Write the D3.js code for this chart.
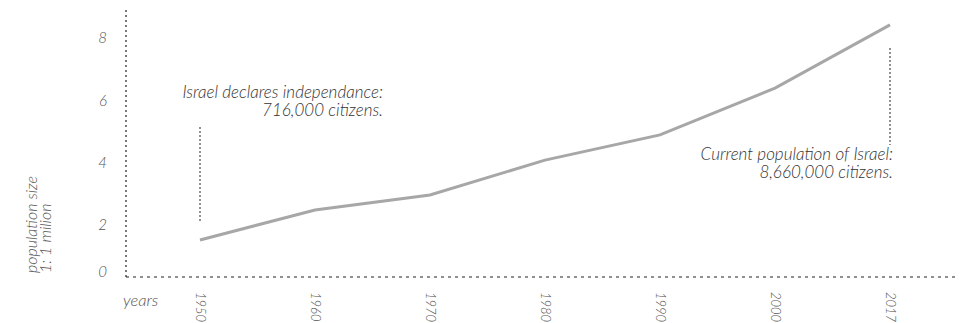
<!DOCTYPE html>
<html>
<head>
<meta charset="utf-8">
<script src="https://cdn.jsdelivr.net/npm/d3@7"></script>
<style>
  html, body { margin: 0; padding: 0; background: #fff; }
  svg { display: block; }
  text { font-family: Lato, "Open Sans", sans-serif; font-style: italic; font-weight: 300; fill: #333; }
</style>
</head>
<body>
<svg id="chart" width="963" height="323"></svg>
<script>
// ---- data ----
const years = ["1950", "1960", "1970", "1980", "1990", "2000", "2017"];
const population = [1.52, 2.48, 2.96, 4.08, 4.89, 6.39, 8.42]; // millions
const yTicks = [0, 2, 4, 6, 8];
const yTitle = ["population size", "1: 1 milion"];
const xTitle = "years";
const noteStart = ["Israel declares independance:", "716,000 citizens."];
const noteEnd = ["Current population of Israel:", "8,660,000 citizens."];

// ---- layout ----
const svg = d3.select("#chart");
const axisX = 126, axisY = 277, axisTop = 10, axisRight = 955;

const x = d3.scalePoint().domain(years).range([200, 890]);
const y = d3.scaleLinear().domain([0, 9]).range([287.3, 6.8]);

// axes (dotted)
svg.append("line")
  .attr("x1", axisX).attr("x2", axisX).attr("y1", axisTop).attr("y2", axisY)
  .attr("stroke", "#222").attr("stroke-width", 1.2).attr("stroke-dasharray", "2,3");
svg.append("line")
  .attr("x1", axisX).attr("x2", axisRight).attr("y1", axisY).attr("y2", axisY)
  .attr("stroke", "#222").attr("stroke-width", 1.2).attr("stroke-dasharray", "3,4");

// y tick labels
svg.selectAll(".ytick").data(yTicks).enter().append("text")
  .attr("class", "ytick")
  .attr("x", 107)
  .attr("y", d => Math.min(y(d), axisY - 5))
  .attr("dy", "0.35em")
  .attr("text-anchor", "end")
  .attr("font-size", 15)
  .style("fill", "#555")
  .text(d => d);

// x tick labels (rotated)
svg.selectAll(".xtick").data(years).enter().append("text")
  .attr("class", "xtick")
  .attr("transform", d => `translate(${x(d) - 4},292) rotate(90)`)
  .attr("text-anchor", "start")
  .attr("font-size", 13)
  .style("fill", "#555")
  .text(d => d);

// axis titles
svg.append("text").attr("x", 123).attr("y", 306).attr("font-size", 16.5)
  .style("fill", "#555").text(xTitle);
const yt = svg.append("text").attr("transform", "translate(37,273) rotate(-90)")
  .attr("font-size", 16).style("fill", "#555");
yt.selectAll("tspan").data(yTitle).enter().append("tspan")
  .attr("x", 0).attr("dy", (d, i) => i === 0 ? 0 : 13.5).text(d => d);

// line
const line = d3.line().x((d, i) => x(years[i])).y(d => y(d));
svg.append("path").datum(population)
  .attr("d", line).attr("fill", "none")
  .attr("stroke", "#a7a7a7").attr("stroke-width", 3);

// annotations
svg.append("line")
  .attr("x1", x(years[0])).attr("x2", x(years[0]))
  .attr("y1", 127).attr("y2", 223)
  .attr("stroke", "#222").attr("stroke-width", 1).attr("stroke-dasharray", "2,2");
const n1 = svg.append("text").attr("font-size", 17).attr("text-anchor", "end");
n1.selectAll("tspan").data(noteStart).enter().append("tspan")
  .attr("x", 383).attr("y", (d, i) => 98 + i * 18).text(d => d);

const xe = x(years[years.length - 1]);
svg.append("line")
  .attr("x1", xe).attr("x2", xe).attr("y1", 48).attr("y2", 145)
  .attr("stroke", "#222").attr("stroke-width", 1).attr("stroke-dasharray", "2,2");
const n2 = svg.append("text").attr("font-size", 17).attr("text-anchor", "end");
n2.selectAll("tspan").data(noteEnd).enter().append("tspan")
  .attr("x", 893).attr("y", (d, i) => 160 + i * 18).text(d => d);
</script>
</body>
</html>
